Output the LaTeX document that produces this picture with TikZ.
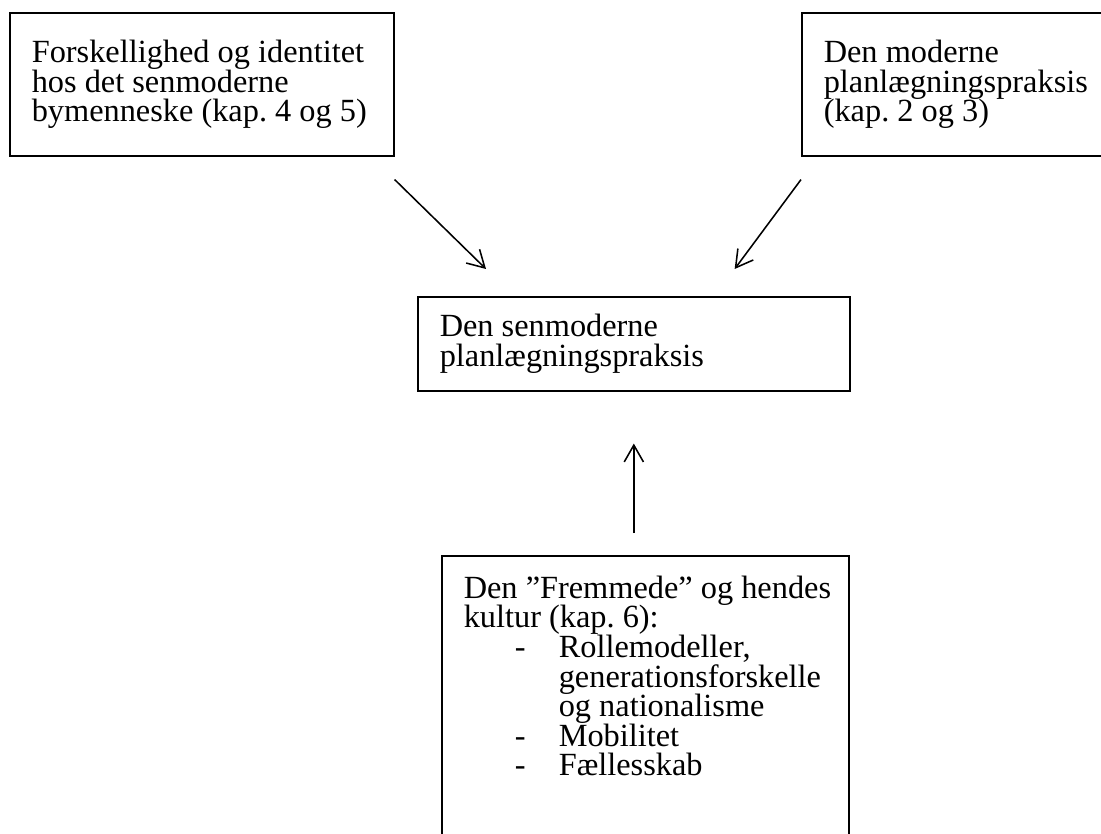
\documentclass[tikz,border=0pt]{standalone}
\usepackage{fontspec}
\setmainfont{Liberation Serif}
\usetikzlibrary{arrows.meta, calc}

\begin{document}
\begin{tikzpicture}[
  x=0.025cm, y=-0.025cm,
  boks/.style={rectangle, draw, line width=1.1pt, anchor=north west, align=left, inner xsep=0.2cm, inner ysep=0pt,
    execute at begin node={\fontsize{23pt}{21pt}\selectfont\baselineskip=0.74cm\lineskiplimit=-20pt\spaceskip=0pt\xspaceskip=0pt\frenchspacing\leftskip=0.35cm}},
  every edge/.style={draw, -{Straight Barb[length=4.2mm, width=4.8mm]}, line width=1.1pt}
]
  \useasboundingbox (0,0) rectangle (1101,834);

  \node[boks, text width=9.2cm, minimum height=3.575cm] (identitet) at (9,12) {Forskellighed og identitet\\hos det senmoderne\\bymenneske (kap. 4 og 5)};
  \node[boks, text width=7.35cm, minimum height=3.575cm] (moderne) at (801,12) {Den moderne\\planlægningspraksis\\(kap. 2 og 3)};
  \node[boks, text width=10.4cm, minimum height=2.35cm] (senmoderne) at (417,296) {Den senmoderne\\planlægningspraksis};
  \node[boks, text width=9.775cm, inner ysep=0.5cm, text depth=8cm] (fremmede) at (441,555) {Den ”Fremmede” og hendes\\kultur (kap. 6):\\
    \hspace*{1.275cm}\makebox[1.1cm][l]{-}Rollemodeller,\\
    \hspace*{2.375cm}generationsforskelle\\
    \hspace*{2.375cm}og nationalisme\\
    \hspace*{1.275cm}\makebox[1.1cm][l]{-}Mobilitet\\
    \hspace*{1.275cm}\makebox[1.1cm][l]{-}Fællesskab};

  \path ($(identitet.south east)+(0,23)$) edge ($(senmoderne.north west)+(69,-27)$);
  \path ($(moderne.south west)+(0,23)$) edge ($(senmoderne.north east)+(-116,-27)$);
  \path ($(fremmede.north -| senmoderne.south)+(0,-22)$) edge ($(senmoderne.south)+(0,52)$);
\end{tikzpicture}
\end{document}
